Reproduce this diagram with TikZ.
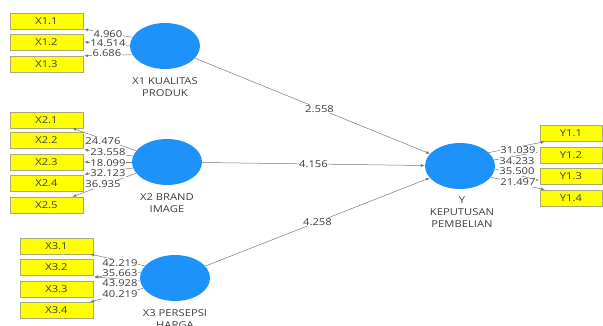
\documentclass[tikz,border=0pt]{standalone}
\usepackage{fontspec}
\setmainfont{Open Sans}[FakeStretch=1.18]
\usetikzlibrary{shapes.geometric,arrows.meta}
\definecolor{circblue}{RGB}{28,146,250}
\definecolor{boxyel}{RGB}{255,255,0}
\definecolor{boxline}{RGB}{170,170,120}
\definecolor{txt}{RGB}{60,60,60}
\definecolor{lin}{RGB}{120,120,120}
\tikzset{
  ind/.style={rectangle,draw=boxline,fill=boxyel,line width=0.4pt,minimum width=73pt,minimum height=16pt,inner sep=0pt,font=\fontsize{9.5}{11}\selectfont,text=txt},
  yind/.style={ind,minimum width=62pt},
  lv/.style={ellipse,fill=circblue,draw=none,minimum width=70pt,minimum height=46pt,inner sep=0pt},
  lvlab/.style={align=center,anchor=north,inner sep=0pt,font=\fontsize{9.5}{12}\selectfont,text=txt},
  ld/.style={draw=lin,line width=0.5pt,-{Latex[length=4pt,width=3pt]}},
  val/.style={fill=white,inner sep=0.6pt,font=\fontsize{9.5}{10}\selectfont,text=txt},
}
\begin{document}
\begin{tikzpicture}[x=1pt,y=-1pt]
\useasboundingbox (0,0) rectangle (603,326);
% indicators
\node[ind] (X11) at (46.5,21) {X1.1};
\node[ind] (X12) at (46.5,42) {X1.2};
\node[ind] (X13) at (46.5,64) {X1.3};
\node[ind] (X21) at (46.5,120) {X2.1};
\node[ind] (X22) at (46.5,140.5) {X2.2};
\node[ind] (X23) at (46.5,162) {X2.3};
\node[ind] (X24) at (46.5,183.5) {X2.4};
\node[ind] (X25) at (46.5,205) {X2.5};
\node[ind] (X31) at (56.5,246) {X3.1};
\node[ind] (X32) at (56.5,267) {X3.2};
\node[ind] (X33) at (56.5,289) {X3.3};
\node[ind] (X34) at (56.5,310) {X3.4};
\node[yind] (Y11) at (571,133.5) {Y1.1};
\node[yind] (Y12) at (571,155) {Y1.2};
\node[yind] (Y13) at (571,176.5) {Y1.3};
\node[yind] (Y14) at (571,198) {Y1.4};
% latent variables
\node[lv] (X1) at (165,46) {};
\node[lv] (X2) at (167,162) {};
\node[lv] (X3) at (175,278) {};
\node[lv] (Y) at (460,166) {};
\node[lvlab] (X1l) at ([yshift=-8pt]X1.south) {X1 KUALITAS\\PRODUK};
\node[lvlab] (X2l) at ([yshift=-8pt]X2.south) {X2 BRAND\\IMAGE};
\node[lvlab] (X3l) at ([yshift=-8pt]X3.south) {X3 PERSEPSI\\HARGA};
\node[lvlab] (Yl) at ([xshift=2pt,yshift=-7pt]Y.south) {Y\\KEPUTUSAN\\PEMBELIAN};
% inner model
\draw[ld] (X1) -- (Y) node[val,pos=0.53] {2.558};
\draw[ld] (X2) -- (Y) node[val,pos=0.5] {4.156};
\draw[ld] (X3) -- (Y) node[val,pos=0.5] {4.258};
% outer loadings X1
\draw[ld] (X1.165) -- ([xshift=1pt]X11.south east);
\draw[ld] (X1.180) -- ([xshift=1pt]X12.east);
\draw[ld] (X1.195) -- ([xshift=1pt]X13.north east);
% X2
\draw[ld] (X2.160) -- ([xshift=-11pt]X21.south east);
\draw[ld] (X2.170) -- ([xshift=1pt,yshift=-1pt]X22.south east);
\draw[ld] (X2.180) -- ([xshift=1pt]X23.east);
\draw[ld] (X2.190) -- ([xshift=1pt,yshift=1pt]X24.north east);
\draw[ld] (X2.200) -- ([xshift=-11pt]X25.north east);
% X3
\draw[ld] (X3.158) -- ([xshift=-3pt]X31.south east);
\draw[ld] (X3.170) -- ([xshift=1pt,yshift=-2pt]X32.south east);
\draw[ld] (X3.185) -- ([xshift=1pt,yshift=4pt]X33.north east);
\draw[ld] (X3.198) -- ([xshift=-3pt]X34.north east);
% Y
\draw[ld] (Y.25) -- ([xshift=5pt]Y11.south west);
\draw[ld] (Y.10) -- ([xshift=-2pt,yshift=3pt]Y12.west);
\draw[ld] (Y.-5) -- ([xshift=-1pt,yshift=-4pt]Y13.west);
\draw[ld] (Y.-20) -- ([xshift=5pt]Y14.north west);
% loading values
\node[val] (v11) at (108,34) {4.960};
\node[val] (v12) at (108,43) {14.514};
\node[val] (v13) at (107,53) {6.686};
\node[val] (v21) at (103,141) {24.476};
\node[val] (v22) at (108,152) {23.558};
\node[val] (v23) at (108,163) {18.099};
\node[val] (v24) at (108,173.5) {32.123};
\node[val] (v25) at (103,184.5) {36.935};
\node[val] (v31) at (120,263) {42.219};
\node[val] (v32) at (120,273) {35.663};
\node[val] (v33) at (120,283.5) {43.928};
\node[val] (v34) at (120,294.5) {40.219};
\node[val] (w11) at (518,150) {31.039};
\node[val] (w12) at (517,161) {34.233};
\node[val] (w13) at (517,171.5) {35.500};
\node[val] (w14) at (518,182.5) {21.497};
\end{tikzpicture}
\end{document}
